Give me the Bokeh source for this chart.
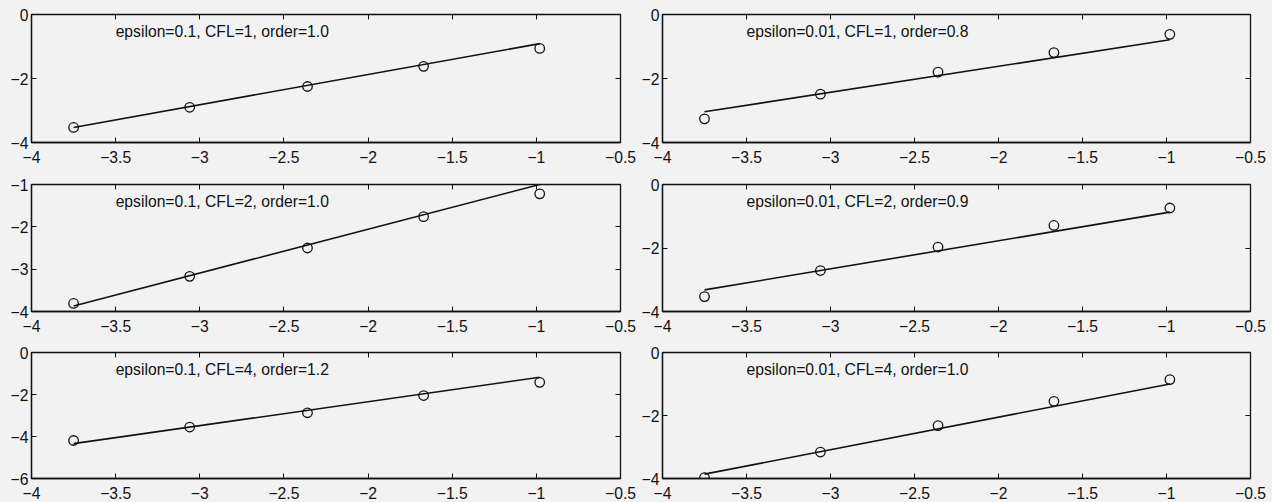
from bokeh.plotting import figure
from bokeh.layouts import gridplot
from bokeh.models import Range1d, LinearAxis, FixedTicker, Label
from bokeh.embed import file_html
from bokeh.resources import INLINE

# ---- data ----
x_vals = [-3.75, -3.06, -2.36, -1.67, -0.98]
x_ticks = [-4, -3.5, -3, -2.5, -2, -1.5, -1, -0.5]

titles = [
    "epsilon=0.1, CFL=1, order=1.0",
    "epsilon=0.01, CFL=1, order=0.8",
    "epsilon=0.1, CFL=2, order=1.0",
    "epsilon=0.01, CFL=2, order=0.9",
    "epsilon=0.1, CFL=4, order=1.2",
    "epsilon=0.01, CFL=4, order=1.0",
]

err_e01_cfl1 = [-3.53, -2.90, -2.25, -1.62, -1.06]
err_e001_cfl1 = [-3.26, -2.49, -1.80, -1.19, -0.62]
err_e01_cfl2 = [-3.81, -3.17, -2.50, -1.76, -1.22]
err_e001_cfl2 = [-3.53, -2.71, -1.97, -1.29, -0.74]
err_e01_cfl4 = [-4.19, -3.55, -2.87, -2.05, -1.42]
err_e001_cfl4 = [-3.97, -3.16, -2.32, -1.55, -0.86]

fit_e01_cfl1 = [-3.53, -0.91]
fit_e001_cfl1 = [-3.04, -0.79]
fit_e01_cfl2 = [-3.87, -1.00]
fit_e001_cfl2 = [-3.32, -0.87]
fit_e01_cfl4 = [-4.34, -1.18]
fit_e001_cfl4 = [-3.86, -1.00]

y_limits = [(-4, 0), (-4, 0), (-4, -1), (-4, 0), (-6, 0), (-4, 0)]
y_ticks = [[-4, -2, 0], [-4, -2, 0], [-4, -3, -2, -1], [-4, -2, 0], [-6, -4, -2, 0], [-4, -2, 0]]

series = [err_e01_cfl1, err_e001_cfl1, err_e01_cfl2, err_e001_cfl2, err_e01_cfl4, err_e001_cfl4]
fits = [fit_e01_cfl1, fit_e001_cfl1, fit_e01_cfl2, fit_e001_cfl2, fit_e01_cfl4, fit_e001_cfl4]

# ---- layout / style ----
BG = "#f2f2f2"
INK = "#111111"
FONT = "Liberation Sans"
FS = "15.7px"
col_w = [638, 634]
col_border = [(31, 18), (18, 22)]
row_h = [169, 169, 164]
row_border = [(14, 27), (15, 27), (14, 24)]


def make_panel(i):
    r, c = divmod(i, 2)
    ymin, ymax = y_limits[i]
    p = figure(width=col_w[c], height=row_h[r], output_backend="svg",
               toolbar_location=None, x_range=Range1d(-4, -0.5),
               y_range=Range1d(ymin, ymax),
               min_border_left=col_border[c][0], min_border_right=col_border[c][1],
               min_border_top=row_border[r][0], min_border_bottom=row_border[r][1],
               background_fill_color=BG, border_fill_color=BG)
    p.grid.visible = False
    p.outline_line_color = INK
    p.outline_line_width = 1.3

    for ax in (p.xaxis[0], p.yaxis[0]):
        ax.major_tick_in = 5
        ax.major_tick_out = 0
        ax.minor_tick_line_color = None
        ax.axis_line_color = INK
        ax.axis_line_width = 1.3
        ax.major_tick_line_color = INK
        ax.major_label_text_font = FONT
        ax.major_label_text_font_size = FS
        ax.major_label_text_color = INK
    p.xaxis[0].ticker = FixedTicker(ticks=x_ticks)
    p.yaxis[0].ticker = FixedTicker(ticks=y_ticks[i])
    p.xaxis[0].major_label_standoff = 8
    p.yaxis[0].major_label_standoff = 3

    top = LinearAxis(ticker=FixedTicker(ticks=x_ticks), major_tick_in=5, major_tick_out=0,
                     minor_tick_line_color=None, major_label_text_font_size="1px",
                     major_label_text_color=None,
                     major_label_standoff=0, axis_line_color=None,
                     major_tick_line_color=INK)
    right = LinearAxis(ticker=FixedTicker(ticks=y_ticks[i]), major_tick_in=5, major_tick_out=0,
                       minor_tick_line_color=None, major_label_text_font_size="1px",
                       major_label_text_color=None,
                       major_label_standoff=0, axis_line_color=None,
                       major_tick_line_color=INK)
    p.add_layout(top, "above")
    p.add_layout(right, "right")

    p.line([x_vals[0], x_vals[-1]], fits[i], line_color=INK, line_width=1.6)
    p.scatter(x_vals, series[i], marker="circle", size=9.5, fill_color=None,
              line_color=INK, line_width=1.3)

    p.add_layout(Label(x=-3.5, y=ymax - 0.135 * (ymax - ymin), text=titles[i],
                       text_font=FONT, text_font_size=FS, text_color=INK,
                       text_baseline="middle", text_align="left"))
    return p


panels = [make_panel(i) for i in range(6)]
grid = gridplot([[panels[0], panels[1]], [panels[2], panels[3]], [panels[4], panels[5]]],
                toolbar_location=None)

html = file_html(grid, INLINE)
html = html.replace("<head>", "<head><style>html,body{margin:0;padding:0;background:%s;}</style>" % BG, 1)
open("out.html", "w").write(html)
